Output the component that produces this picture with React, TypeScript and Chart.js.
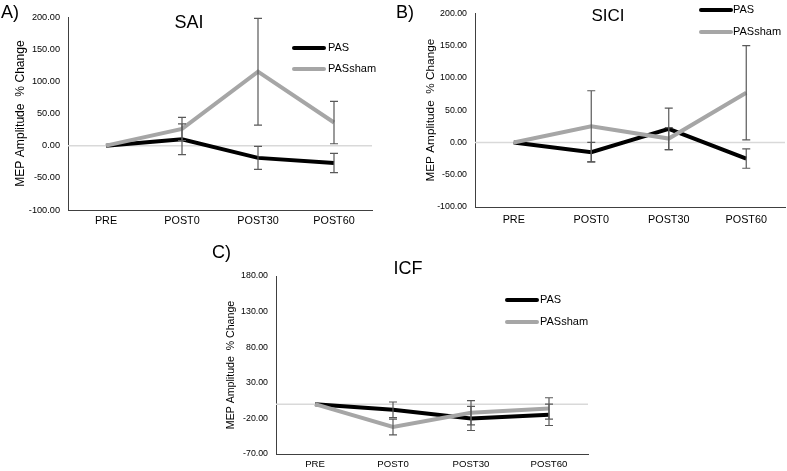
import React, { useEffect, useRef } from "react";
import { Chart, registerables } from "chart.js";

Chart.register(...registerables);

const categories = ["PRE", "POST0", "POST30", "POST60"];
const seriesNames = ["PAS", "PASsham"];
const axisTitle = "MEP Amplitude  % Change";

// A) SAI
const saiPAS = [0, 10, -19, -27];
const saiPASErr = [0, 24, 18, 15];
const saiSham = [0, 26, 115, 36];
const saiShamErr = [0, 18, 83, 33];

// B) SICI
const siciPAS = [0, -15, 21, -25];
const siciPASErr = [0, 15, 32, 15];
const siciSham = [0, 25, 6, 77];
const siciShamErr = [0, 55, 17, 73];

// C) ICF
const icfPAS = [0, -8, -20, -15];
const icfPASErr = [0, 11, 17, 15];
const icfSham = [0, -32, -12, -6];
const icfShamErr = [0, 11, 17, 15];

const abRange = [-100, 200];
const cRange = [-70, 180];
const tickStep = 50;

const FONT = '"Liberation Sans", Arial, Helvetica, sans-serif';
const PAS_COLOR = "#000000";
const SHAM_COLOR = "#a6a6a6";
const ERR_COLOR = "#595959";
const AXIS_COLOR = "#404040";

type PanelSpec = {
  letter: string;
  title: string;
  left: number;
  top: number;
  width: number;
  height: number;
  padTop: number;
  padRight: number;
  yWidth: number;
  xHeight: number;
  range: number[];
  pas: number[];
  pasErr: number[];
  sham: number[];
  shamErr: number[];
  yTitleSize: number;
  yTitlePad: number;
  yTickSize: number;
  xTickSize: number;
  xTickPad: number;
  legend: { x1: number; x2: number; tx: number; ys: number[] };
  letterPos: { x: number; y: number };
  titlePos: { x: number; y: number; size: number };
};

const panels: PanelSpec[] = [
  {
    letter: "A)",
    title: "SAI",
    left: 0,
    top: 0,
    width: 390,
    height: 235,
    padTop: 17,
    padRight: 18,
    yWidth: 68,
    xHeight: 25,
    range: abRange,
    pas: saiPAS,
    pasErr: saiPASErr,
    sham: saiSham,
    shamErr: saiShamErr,
    yTitleSize: 12.1,
    yTitlePad: 13,
    yTickSize: 9.2,
    xTickSize: 10.8,
    xTickPad: 5,
    legend: { x1: 294, x2: 324, tx: 328, ys: [48, 69] },
    letterPos: { x: 1, y: 12 },
    titlePos: { x: 189, y: 22, size: 18 },
  },
  {
    letter: "B)",
    title: "SICI",
    left: 410,
    top: 0,
    width: 377,
    height: 235,
    padTop: 13,
    padRight: 2,
    yWidth: 65,
    xHeight: 28,
    range: abRange,
    pas: siciPAS,
    pasErr: siciPASErr,
    sham: siciSham,
    shamErr: siciShamErr,
    yTitleSize: 11.8,
    yTitlePad: 13.5,
    yTickSize: 8.8,
    xTickSize: 10.8,
    xTickPad: 7,
    legend: { x1: 291, x2: 321, tx: 323, ys: [10, 32] },
    letterPos: { x: 396, y: 12 },
    titlePos: { x: 608, y: 15, size: 17 },
  },
  {
    letter: "C)",
    title: "ICF",
    left: 211,
    top: 235,
    width: 390,
    height: 236,
    padTop: 41,
    padRight: 13,
    yWidth: 65,
    xHeight: 17,
    range: cRange,
    pas: icfPAS,
    pasErr: icfPASErr,
    sham: icfSham,
    shamErr: icfShamErr,
    yTitleSize: 10.6,
    yTitlePad: 14,
    yTickSize: 8.8,
    xTickSize: 9.6,
    xTickPad: 5,
    legend: { x1: 296, x2: 326, tx: 329, ys: [65, 87] },
    letterPos: { x: 212, y: 252 },
    titlePos: { x: 408, y: 268, size: 18 },
  },
];

const zeroLinePlugin = {
  id: "zeroLine",
  beforeDatasetsDraw(chart: any) {
    const { ctx, chartArea, scales } = chart;
    const y = scales.y.getPixelForValue(0);
    ctx.save();
    ctx.strokeStyle = "#d9d9d9";
    ctx.lineWidth = 1.5;
    ctx.beginPath();
    ctx.moveTo(chartArea.left, y);
    ctx.lineTo(chartArea.right, y);
    ctx.stroke();
    ctx.restore();
  },
};

const errorBarPlugin = {
  id: "errorBars",
  afterDatasetsDraw(chart: any) {
    const { ctx, scales } = chart;
    ctx.save();
    ctx.strokeStyle = ERR_COLOR;
    ctx.lineWidth = 1.2;
    chart.data.datasets.forEach((ds: any) => {
      const errs: number[] = ds.errors || [];
      ds.data.forEach((v: number, i: number) => {
        const e = errs[i];
        if (!e) return;
        const x = scales.x.getPixelForValue(i);
        const yt = scales.y.getPixelForValue(v + e);
        const yb = scales.y.getPixelForValue(v - e);
        ctx.beginPath();
        ctx.moveTo(x, yt);
        ctx.lineTo(x, yb);
        ctx.moveTo(x - 4, yt);
        ctx.lineTo(x + 4, yt);
        ctx.moveTo(x - 4, yb);
        ctx.lineTo(x + 4, yb);
        ctx.stroke();
      });
    });
    ctx.restore();
  },
};

const lineLegendPlugin = {
  id: "lineLegend",
  afterDraw(chart: any, _args: any, opts: any) {
    const { ctx } = chart;
    ctx.save();
    chart.data.datasets.forEach((ds: any, i: number) => {
      const y = opts.ys[i];
      ctx.strokeStyle = ds.borderColor;
      ctx.lineWidth = 4;
      ctx.lineCap = "round";
      ctx.beginPath();
      ctx.moveTo(opts.x1, y);
      ctx.lineTo(opts.x2, y);
      ctx.stroke();
      ctx.fillStyle = "#000";
      ctx.font = `11px ${FONT}`;
      ctx.textAlign = "left";
      ctx.textBaseline = "middle";
      ctx.fillText(ds.label, opts.tx, y);
    });
    ctx.restore();
  },
};

function buildChart(canvas: HTMLCanvasElement, p: PanelSpec) {
  return new Chart(canvas, {
    type: "line",
    data: {
      labels: categories,
      datasets: [
        {
          label: seriesNames[0],
          data: p.pas,
          errors: p.pasErr,
          borderColor: PAS_COLOR,
          backgroundColor: PAS_COLOR,
          borderWidth: 4,
          pointRadius: 0,
          tension: 0,
          order: 1,
        } as any,
        {
          label: seriesNames[1],
          data: p.sham,
          errors: p.shamErr,
          borderColor: SHAM_COLOR,
          backgroundColor: SHAM_COLOR,
          borderWidth: 4,
          pointRadius: 0,
          tension: 0,
          order: 0,
        } as any,
      ],
    },
    options: {
      animation: false,
      responsive: false,
      maintainAspectRatio: false,
      events: [],
      layout: { padding: { top: p.padTop, right: p.padRight, left: 0, bottom: 0 } },
      plugins: {
        legend: { display: false },
        tooltip: { enabled: false },
        title: { display: false },
        lineLegend: p.legend,
      } as any,
      scales: {
        x: {
          type: "category",
          offset: true,
          grid: { display: false, drawTicks: false },
          border: { display: true, color: AXIS_COLOR, width: 1 },
          ticks: {
            color: "#000",
            font: { family: FONT, size: p.xTickSize },
            padding: p.xTickPad,
            maxRotation: 0,
            autoSkip: false,
          },
          afterFit: (s: any) => {
            s.height = p.xHeight;
          },
        },
        y: {
          type: "linear",
          min: p.range[0],
          max: p.range[1],
          grid: { display: false, drawTicks: false },
          border: { display: true, color: AXIS_COLOR, width: 1 },
          ticks: {
            stepSize: tickStep,
            color: "#000",
            font: { family: FONT, size: p.yTickSize },
            padding: 8,
            callback: (v: any) => Number(v).toFixed(2),
          },
          title: {
            display: true,
            text: axisTitle,
            color: "#000",
            font: { family: FONT, size: p.yTitleSize },
            padding: { top: p.yTitlePad, bottom: 0 },
          },
          afterFit: (s: any) => {
            s.width = p.yWidth;
          },
        },
      },
    } as any,
    plugins: [zeroLinePlugin, errorBarPlugin, lineLegendPlugin],
  });
}

function Panel({ p }: { p: PanelSpec }) {
  const ref = useRef<HTMLCanvasElement | null>(null);
  useEffect(() => {
    if (!ref.current) return;
    const chart = buildChart(ref.current, p);
    return () => chart.destroy();
  }, [p]);
  return (
    <canvas
      ref={ref}
      width={p.width}
      height={p.height}
      style={{
        position: "absolute",
        left: p.left,
        top: p.top,
        width: p.width,
        height: p.height,
      }}
    />
  );
}

const textStyle = (x: number, y: number, size: number, center: boolean): React.CSSProperties => ({
  position: "absolute",
  left: x,
  top: y,
  transform: center ? "translate(-50%, -50%)" : "translate(0, -50%)",
  fontFamily: FONT,
  fontSize: size,
  lineHeight: 1,
  whiteSpace: "nowrap",
  color: "#000",
  pointerEvents: "none",
});

export default function App() {
  return (
    <div
      style={{
        position: "absolute",
        left: 0,
        top: 0,
        width: 787,
        height: 471,
        background: "#fff",
        overflow: "hidden",
      }}
    >
      {panels.map((p) => (
        <Panel key={p.letter} p={p} />
      ))}
      {panels.map((p) => (
        <div key={p.letter + "l"} style={textStyle(p.letterPos.x, p.letterPos.y, 18, false)}>
          {p.letter}
        </div>
      ))}
      {panels.map((p) => (
        <div key={p.letter + "t"} style={textStyle(p.titlePos.x, p.titlePos.y, p.titlePos.size, true)}>
          {p.title}
        </div>
      ))}
    </div>
  );
}
